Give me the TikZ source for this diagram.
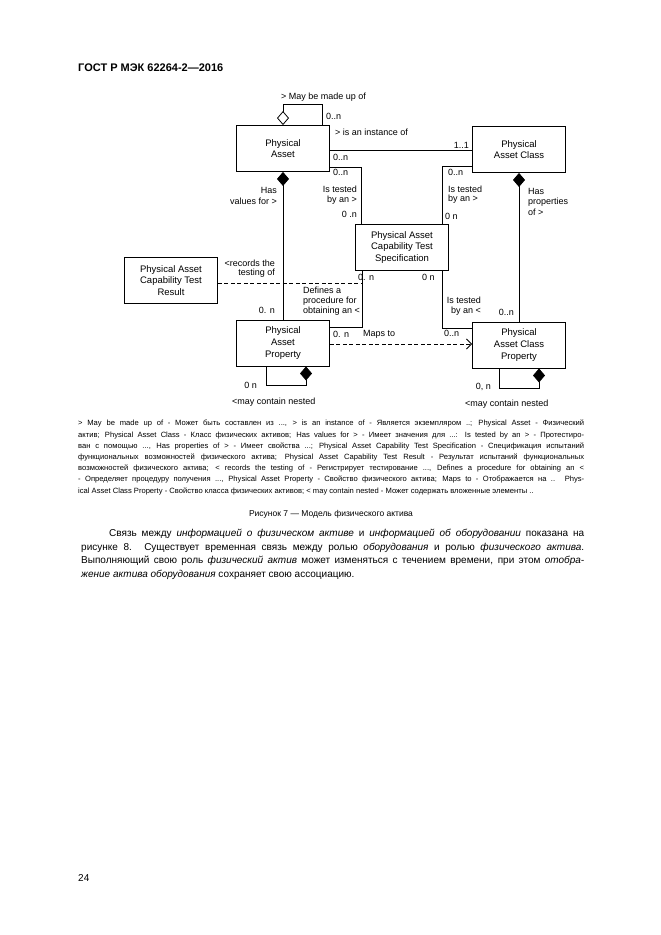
\documentclass[tikz,border=0pt]{standalone}
\usepackage{fontspec}
\setmainfont{Liberation Sans}
\usetikzlibrary{arrows.meta}
\begin{document}
\begin{tikzpicture}[x=1pt,y=-1pt,
  box/.style={draw, line width=0.9pt, minimum width=93pt, minimum height=46pt, align=center,
    font=\fontsize{9.5}{11.7}\selectfont, inner sep=1pt},
  lbl/.style={font=\fontsize{9}{10.8}\selectfont, inner sep=0pt},
  conn/.style={line width=0.8pt},
  comp/.style={conn, -{Diamond[length=14pt,width=12pt]}},
  aggr/.style={conn, -{Diamond[open,length=14pt,width=12pt,fill=white]}},
  dsh/.style={conn, dash pattern=on 4pt off 2.5pt},
]
\fill[white] (0,0) rectangle (661,935);
\useasboundingbox (0,0) rectangle (661,935);

% header
\node[anchor=west, inner sep=0pt, font=\bfseries\fontsize{11}{13}\selectfont] (hdr) at (78,68) {ГОСТ Р МЭК 62264-2—2016};

% classes
\node[box] (PA) at (283,148.5) {Physical\\Asset};
\node[box] (PAC) at (519,149.5) {Physical\\Asset Class};
\node[box] (PACTS) at (402,247.5) {Physical Asset\\Capability Test\\Specification};
\node[box] (PACTR) at (171,280.5) {Physical Asset\\Capability Test\\Result};
\node[box] (PAP) at (283,343) {Physical\\Asset\\Property};
\node[box] (PACP) at (519,345) {Physical\\Asset Class\\Property};

% connectors
\draw[aggr] ([xshift=39pt]PA.north) -- ++(0,-21) -| (PA.north);
\draw[conn] ([yshift=-1.5pt]PA.east) coordinate (ia) -- (ia -| PAC.west);
\draw[conn] ([yshift=-18.5pt]PA.east) -| ([xshift=6pt]PACTS.north west);
\draw[conn] ([yshift=-16.5pt]PAC.west) -| ([xshift=-7pt]PACTS.north east);
\draw[comp] (PAP.north) -- (PA.south);
\draw[comp] (PACP.north) -- (PAC.south);
\draw[conn] ([xshift=7pt]PACTS.south west) coordinate (dtop) |- ([yshift=16pt]PAP.east);
\draw[conn] ([xshift=-7pt]PACTS.south east) |- ([yshift=17pt]PACP.west);
\coordinate (ry) at (0,283);
\coordinate (dj) at (dtop |- ry);
\draw[dsh] (PACTR.east |- dj) -- (dj);
\draw[dsh, -{Straight Barb[length=5pt,width=10pt]}] ([yshift=-1pt]PAP.east) coordinate (ma) -- (ma -| PACP.west);
\draw[comp] ([xshift=-17pt]PAP.south) -- ++(0,19) -| ([xshift=23pt]PAP.south);
\draw[comp] ([xshift=-20pt]PACP.south) -- ++(0,20) -| ([xshift=20pt]PACP.south);

% labels
\node[lbl,anchor=west] (a1) at (281,97) {> May be made up of};
\node[lbl,anchor=west] (a2) at (326,116) {0..n};
\node[lbl,anchor=west] (a3) at (335,132) {> is an instance of};
\node[lbl,anchor=east] (a4) at (469,145) {1..1};
\node[lbl,anchor=west] (a5) at (333,157) {0..n};
\node[lbl,anchor=west] (a6) at (333,172) {0..n};
\node[lbl,anchor=west] (a7) at (448,172) {0..n};
\node[lbl,anchor=east] (a8) at (277,190) {Has};
\node[lbl,anchor=east] (a9) at (277,201) {values for >};
\node[lbl,anchor=east] (a10) at (357,189) {Is tested};
\node[lbl,anchor=east] (a11) at (357,200) {by an >};
\node[lbl,anchor=east] (a12) at (357,214) {0 .n};
\node[lbl,anchor=west] (a13) at (448,189) {Is tested};
\node[lbl,anchor=west] (a14) at (448,199) {by an >};
\node[lbl,anchor=west] (a15) at (445,216) {0 n};
\node[lbl,anchor=west] (a16) at (528,191) {Has};
\node[lbl,anchor=west] (a17) at (528,202) {properties};
\node[lbl,anchor=west] (a18) at (528,212) {of >};
\node[lbl,anchor=east] (a19) at (275,263) {<records the};
\node[lbl,anchor=east] (a20) at (275,273) {testing of};
\node[lbl,anchor=west] (a21) at (358,277) {0. n};
\node[lbl,anchor=west] (a22) at (422,277) {0 n};
\node[lbl,anchor=west] (a23) at (303,290) {Defines a};
\node[lbl,anchor=west] (a24) at (303,301) {procedure for};
\node[lbl,anchor=west] (a25) at (303,311) {obtaining an <};
\node[lbl,anchor=east] (a26) at (275,310) {0. n};
\node[lbl,anchor=east] (a27) at (481,300) {Is tested};
\node[lbl,anchor=east] (a28) at (481,311) {by an <};
\node[lbl,anchor=east] (a29) at (514,312) {0..n};
\node[lbl,anchor=west] (a30) at (333,334) {0. n};
\node[lbl,anchor=west] (a31) at (363,334) {Maps to};
\node[lbl,anchor=west] (a32) at (444,333) {0..n};
\node[lbl,anchor=east] (a33) at (257,385) {0 n};
\node[lbl,anchor=west] (a34) at (232,402) {<may contain nested};
\node[lbl,anchor=east] (a35) at (491,387) {0, n};
\node[lbl,anchor=west] (a36) at (465,404) {<may contain nested};

% legend
\node[anchor=north west, inner sep=0pt, text width=506pt, align=justify,
  font=\fontsize{7.6}{11.2}\selectfont] (leg) at (78,420)
{\tolerance=10000\hyphenpenalty=10000
> May be made up of - Может быть составлен из ..., > is an instance of - Является экземпляром ..; Physical Asset - Физический\linebreak
актив; Physical Asset Class - Класс физических активов; Has values for > - Имеет значения для ...: Is tested by an > - Протестиро-\linebreak
ван с помощью ..., Has properties of > - Имеет свойства ...; Physical Asset Capability Test Specification - Спецификация испытаний\linebreak
функциональных возможностей физического актива; Physical Asset Capability Test Result - Результат испытаний функциональных\linebreak
возможностей физического актива; < records the testing of - Регистрирует тестирование ..., Defines a procedure for obtaining an <\linebreak
- Определяет процедуру получения ..., Physical Asset Property - Свойство физического актива; Maps to - Отображается на ..  Phys-\linebreak
ical Asset Class Property - Свойство класса физических активов; < may contain nested - Может содержать вложенные элементы ..};

% caption
\node[inner sep=0pt, font=\fontsize{8.5}{10}\selectfont] (cap) at (331,514) {Рисунок 7 — Модель физического актива};

% body text
\node[anchor=north west, inner sep=0pt, text width=503pt, align=justify,
  font=\fontsize{10}{13.6}\selectfont] (body) at (81,529)
{\tolerance=10000\hyphenpenalty=10000
\hspace*{28pt}Связь между \textit{информацией о физическом активе} и \textit{информацией об оборудовании} показана на\linebreak
рисунке 8. Существует временная связь между ролью \textit{оборудования} и ролью \textit{физического актива}.\linebreak
Выполняющий свою роль \textit{физический актив} может изменяться с течением времени, при этом \textit{отобра-}\linebreak
\textit{жение актива оборудования} сохраняет свою ассоциацию.};

% page number
\node[anchor=west, inner sep=0pt, font=\fontsize{10}{12}\selectfont] (pg) at (78,878) {24};
\end{tikzpicture}
\end{document}
